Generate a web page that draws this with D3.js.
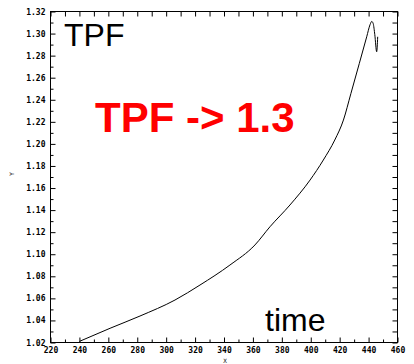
<!DOCTYPE html>
<html>
<head>
<meta charset="utf-8">
<script src="https://cdn.jsdelivr.net/npm/d3@7/dist/d3.min.js"></script>
<style>
  html, body { margin: 0; padding: 0; background: #fff; }
  svg { display: block; }
  .tick text { font-family: "DejaVu Sans Mono", monospace; font-weight: bold; font-size: 8px; fill: #000; }
</style>
</head>
<body>
<svg id="chart" width="414" height="364"></svg>
<script>
// TPF versus time
const timeValues = [240, 261.2, 281.9, 306.1, 323.4, 344.1, 361.4, 371.8, 385.6, 399.5, 408.7, 416.6, 422.6, 427.8, 433.6, 438.7, 441.0, 442.2, 443.2, 444.3, 445.6, 446.3];
const tpfValues  = [1.021, 1.0329, 1.0440, 1.0585, 1.0721, 1.0902, 1.1084, 1.1249, 1.1446, 1.1672, 1.1854, 1.2035, 1.2216, 1.2458, 1.2730, 1.2971, 1.3080, 1.3110, 1.3090, 1.2990, 1.2835, 1.2971];

const xTicks = [220, 240, 260, 280, 300, 320, 340, 360, 380, 400, 420, 440, 460];
const yTicks = [1.02, 1.04, 1.06, 1.08, 1.10, 1.12, 1.14, 1.16, 1.18, 1.20, 1.22, 1.24, 1.26, 1.28, 1.30, 1.32];
const xMinorTicks = d3.range(230, 460, 20);
const yMinorTicks = d3.range(1.03, 1.32, 0.02);
const xAllTicks = d3.range(220, 461, 10);
const yAllTicks = d3.range(1.02, 1.3201, 0.01);

const svg = d3.select("#chart");
const plotLeft = 50.5, plotRight = 397.5, plotTop = 11.5, plotBottom = 342.5;

const x = d3.scaleLinear().domain([220, 460]).range([plotLeft, plotRight]);
const y = d3.scaleLinear().domain([1.02, 1.32]).range([plotBottom, plotTop]);

// frame
svg.append("rect")
  .attr("x", plotLeft).attr("y", plotTop)
  .attr("width", plotRight - plotLeft).attr("height", plotBottom - plotTop)
  .attr("fill", "none").attr("stroke", "#000").attr("stroke-width", 1);

// bottom axis: labelled major ticks pointing up, shorter minor ticks
svg.append("g").attr("transform", `translate(0,${plotBottom})`)
  .call(d3.axisBottom(x).tickValues(xTicks).tickSize(-5).tickPadding(5).tickFormat(d3.format("d")))
  .call(g => g.select(".domain").remove());
svg.append("g").attr("transform", `translate(0,${plotBottom})`)
  .call(d3.axisBottom(x).tickValues(xMinorTicks).tickSize(-3).tickFormat(""))
  .call(g => g.select(".domain").remove());

// left axis
svg.append("g").attr("transform", `translate(${plotLeft},0)`)
  .call(d3.axisLeft(y).tickValues(yTicks).tickSize(-5).tickPadding(5).tickFormat(d3.format(".2f")))
  .call(g => g.select(".domain").remove());
svg.append("g").attr("transform", `translate(${plotLeft},0)`)
  .call(d3.axisLeft(y).tickValues(yMinorTicks).tickSize(-3).tickFormat(""))
  .call(g => g.select(".domain").remove());

// top and right axes: unlabelled ticks pointing inward
svg.append("g").attr("transform", `translate(0,${plotTop})`)
  .call(d3.axisTop(x).tickValues(xAllTicks).tickSize(-5).tickFormat(""))
  .call(g => g.select(".domain").remove());
svg.append("g").attr("transform", `translate(${plotRight},0)`)
  .call(d3.axisRight(y).tickValues(yAllTicks).tickSize(-5).tickFormat(""))
  .call(g => g.select(".domain").remove());

// axis titles
svg.append("text").attr("x", 225).attr("y", 363)
  .attr("text-anchor", "middle")
  .style("font-family", "DejaVu Sans Mono, monospace").style("font-size", "6px")
  .text("X");
svg.append("text").attr("transform", "translate(14,174) rotate(-90)")
  .attr("text-anchor", "middle")
  .style("font-family", "DejaVu Sans Mono, monospace").style("font-size", "6px")
  .text("Y");

// curve
const pts = timeValues.map((t, i) => [t, tpfValues[i]]);
svg.append("path")
  .datum(pts)
  .attr("fill", "none").attr("stroke", "#000").attr("stroke-width", 1)
  .attr("d", d3.line().curve(d3.curveMonotoneX).x(d => x(d[0])).y(d => y(d[1])));

// annotations
svg.append("text").attr("x", 64).attr("y", 46)
  .style("font-family", "Liberation Sans, Arial, sans-serif").style("font-size", "32px").attr("fill", "#000")
  .text("TPF");
svg.append("text").attr("x", 95).attr("y", 132)
  .style("font-family", "Liberation Sans, Arial, sans-serif").style("font-size", "42px").style("font-weight", "bold").attr("fill", "#ff0000")
  .text("TPF -> 1.3");
svg.append("text").attr("x", 265).attr("y", 331)
  .style("font-family", "Liberation Sans, Arial, sans-serif").style("font-size", "32px").attr("fill", "#000")
  .text("time");
</script>
</body>
</html>
